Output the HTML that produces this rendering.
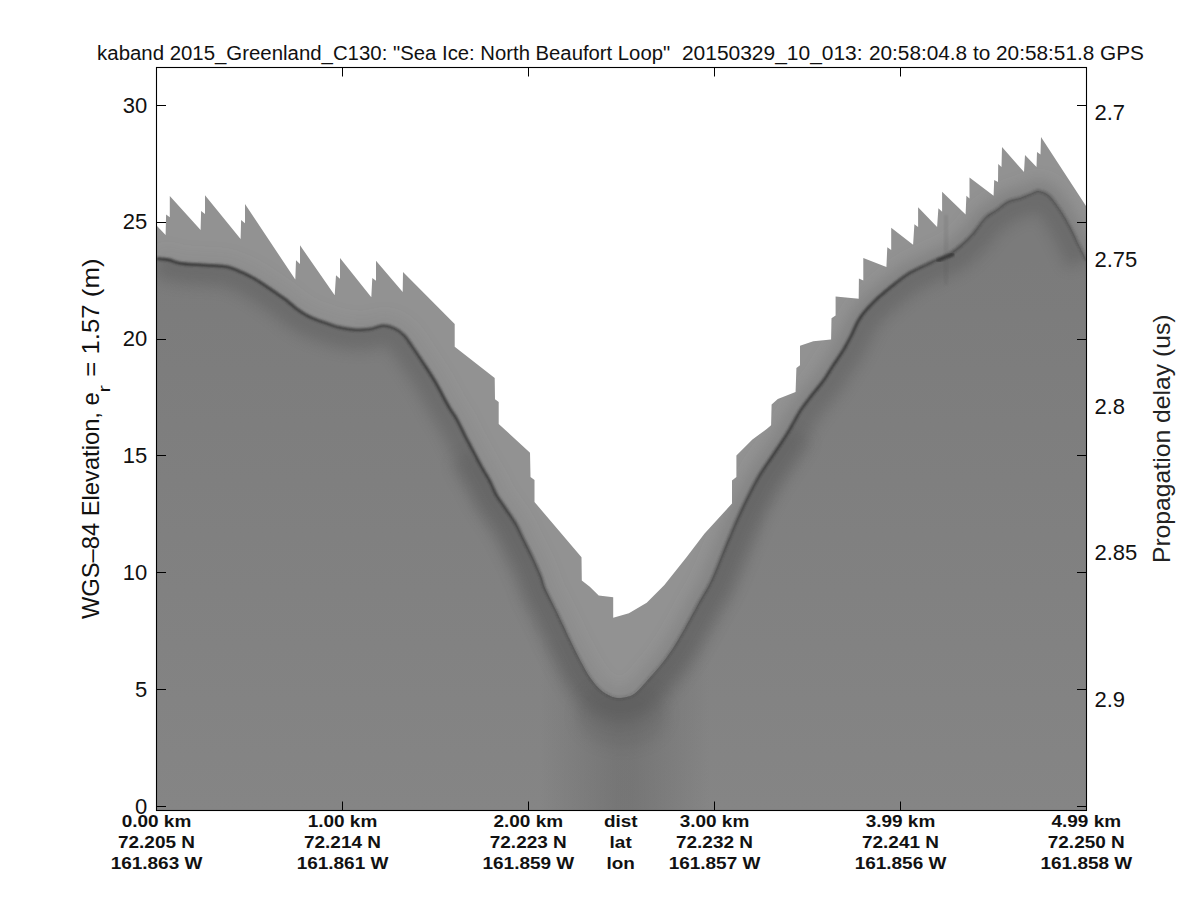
<!DOCTYPE html>
<html><head><meta charset="utf-8"><style>
html,body{margin:0;padding:0;background:#fff;}
svg{display:block;}
</style></head><body>
<svg width="1200" height="900" viewBox="0 0 1200 900">
<rect width="1200" height="900" fill="#fff"/>
<defs>
<filter id="b1" x="-0.05" y="-0.05" width="1.1" height="1.1"><feGaussianBlur stdDeviation="1"/></filter>
<filter id="b6" x="-0.2" y="-0.2" width="1.4" height="1.4"><feGaussianBlur stdDeviation="7"/></filter>
<filter id="b15" x="-0.5" y="-0.5" width="2" height="2"><feGaussianBlur stdDeviation="18"/></filter>
<clipPath id="plot"><rect x="157" y="68" width="929" height="742"/></clipPath>
<clipPath id="low"><path d="M157.0,258.5 C158.9,258.7 164.8,259.0 168.7,259.8 C172.6,260.6 174.5,262.4 180.3,263.3 C186.1,264.2 195.9,264.5 203.7,265.1 C211.5,265.7 221.2,265.8 227.0,266.8 C232.8,267.8 234.8,269.3 238.7,270.9 C242.6,272.5 246.4,274.1 250.3,276.2 C254.2,278.2 258.1,280.7 262.0,283.2 C265.9,285.7 269.9,288.7 273.7,291.3 C277.5,293.9 281.1,296.1 285.0,299.0 C288.9,301.9 293.1,306.1 297.0,309.0 C300.9,311.9 304.0,314.0 308.7,316.3 C313.4,318.6 319.9,320.9 325.0,322.7 C330.1,324.5 333.9,326.1 339.0,327.3 C344.1,328.5 350.2,329.4 355.3,329.7 C360.4,330.0 364.6,329.8 369.3,329.1 C374.0,328.4 379.0,325.6 383.3,325.5 C387.6,325.4 391.5,326.8 395.0,328.5 C398.5,330.2 401.6,332.6 404.4,335.5 C407.2,338.4 408.7,341.2 412.0,346.0 C415.3,350.8 420.0,357.8 424.0,364.0 C428.0,370.2 431.9,375.9 436.0,383.0 C440.1,390.1 445.4,400.7 448.9,406.7 C452.3,412.7 453.9,413.9 456.7,418.9 C459.5,423.9 462.8,431.3 465.6,436.7 C468.4,442.1 470.5,445.9 473.3,451.1 C476.1,456.3 479.4,462.8 482.2,467.8 C485.0,472.8 487.7,476.7 490.0,481.1 C492.3,485.6 493.8,490.2 496.2,494.5 C498.6,498.8 501.2,501.9 504.4,506.7 C507.6,511.5 512.5,517.9 515.6,523.3 C518.8,528.7 520.5,533.3 523.3,538.9 C526.1,544.5 529.2,550.4 532.2,556.7 C535.2,563.0 539.0,571.4 541.1,576.7 C543.2,582.0 542.3,582.5 545.0,588.6 C547.7,594.7 553.3,605.0 557.3,613.2 C561.3,621.4 565.0,629.8 568.9,637.8 C572.8,645.8 576.9,654.1 580.5,660.9 C584.1,667.6 587.0,673.2 590.6,678.3 C594.2,683.4 598.0,688.0 602.1,691.3 C606.2,694.5 611.0,696.8 615.1,697.8 C619.2,698.8 623.2,698.0 626.7,697.1 C630.2,696.2 631.8,696.1 636.0,692.5 C640.2,688.9 646.7,681.2 651.7,675.5 C656.7,669.8 661.8,664.0 666.1,658.2 C670.4,652.4 673.9,647.1 677.7,640.8 C681.6,634.5 685.6,627.1 689.2,620.6 C692.8,614.1 695.8,608.3 699.4,601.8 C703.0,595.3 706.9,589.9 710.9,581.6 C714.9,573.3 719.1,561.9 723.3,552.0 C727.4,542.1 731.9,531.2 735.8,522.4 C739.7,513.6 742.8,506.9 746.7,499.1 C750.6,491.3 755.0,482.8 759.1,475.8 C763.2,468.8 767.9,462.6 771.5,457.1 C775.1,451.7 777.8,447.8 780.9,443.1 C784.0,438.4 786.7,434.2 790.0,428.7 C793.3,423.2 796.9,415.8 800.7,410.0 C804.5,404.2 808.9,398.9 812.7,394.0 C816.5,389.1 820.0,385.4 823.3,380.7 C826.6,376.0 829.4,371.1 832.7,366.0 C836.0,360.9 840.2,355.1 843.3,350.0 C846.4,344.9 848.3,341.0 851.1,335.6 C853.9,330.2 856.3,323.4 860.0,317.8 C863.7,312.2 868.1,307.4 873.3,302.2 C878.5,297.0 885.2,291.5 891.1,286.7 C897.0,281.9 903.0,277.0 908.9,273.3 C914.8,269.6 922.2,266.6 926.7,264.4 C931.2,262.2 931.9,261.7 935.6,260.0 C939.3,258.3 944.5,256.9 948.9,254.4 C953.2,251.8 957.6,248.3 961.7,244.7 C965.8,241.1 969.4,237.5 973.3,233.0 C977.2,228.5 981.1,221.7 985.0,217.8 C988.9,213.9 992.8,212.4 996.7,209.7 C1000.6,206.9 1004.4,203.2 1008.3,201.3 C1012.2,199.4 1016.1,199.3 1020.0,198.0 C1023.9,196.7 1028.6,194.5 1031.7,193.3 C1034.8,192.1 1035.8,190.6 1038.7,191.0 C1041.6,191.4 1045.5,192.4 1049.2,195.7 C1052.9,199.0 1057.5,206.0 1060.8,210.8 C1064.1,215.7 1066.5,220.1 1069.0,224.8 C1071.5,229.5 1073.2,233.0 1076.0,238.8 C1078.8,244.6 1084.3,256.1 1086.0,259.5 L1086,810 L157,810 Z"/></clipPath>
<clipPath id="data"><polygon points="157.0,226.1 165.6,235.0 166.1,214.4 169.8,217.2 169.8,196.1 200.6,230.0 201.1,211.1 205.0,214.1 205.0,195.2 240.6,238.9 241.1,220.0 245.0,223.3 245.0,204.1 295.3,279.5 296.0,260.3 300.0,264.0 300.0,245.3 334.7,295.3 336.0,275.3 340.0,278.7 340.0,258.0 371.3,297.3 372.3,278.0 376.0,280.7 376.0,260.7 402.7,292.0 403.0,272.0 454.7,324.0 454.7,346.7 494.7,378.0 495.0,399.3 498.7,402.0 498.7,424.0 530.0,452.7 530.5,477.0 534.5,480.0 534.5,502.0 581.5,557.3 581.8,580.4 589.8,586.7 598.7,595.6 613.2,597.3 613.2,617.8 628.9,613.3 646.7,602.7 664.4,584.9 686.7,556.9 704.4,533.8 722.2,514.2 732.0,503.6 732.0,480.4 736.4,476.9 736.4,455.6 752.4,439.6 766.7,428.9 771.1,425.3 771.6,404.4 777.8,399.1 795.6,392.0 796.4,368.0 800.0,365.3 800.0,345.8 813.3,341.3 831.1,339.6 831.5,318.2 835.6,315.6 835.6,296.4 858.7,298.7 858.9,278.4 863.3,280.4 863.3,258.0 886.4,266.9 887.3,247.3 891.2,250.0 891.2,227.8 913.1,244.7 914.4,224.2 918.1,226.9 918.1,207.3 937.1,226.9 938.4,208.2 942.1,211.8 942.1,191.7 965.6,214.4 966.4,195.8 969.5,198.4 969.5,177.5 993.6,195.8 994.2,180.0 998.0,182.0 998.2,164.0 1001.5,167.0 1002.0,147.0 1024.0,172.0 1025.0,155.0 1036.5,167.0 1037.0,152.0 1040.5,154.5 1041.0,137.0 1086.0,206.0 1086.0,810.0 157.0,810.0"/></clipPath>
<clipPath id="high"><path d="M157.0,226.1 L165.6,235.0 L166.1,214.4 L169.8,217.2 L169.8,196.1 L200.6,230.0 L201.1,211.1 L205.0,214.1 L205.0,195.2 L240.6,238.9 L241.1,220.0 L245.0,223.3 L245.0,204.1 L295.3,279.5 L296.0,260.3 L300.0,264.0 L300.0,245.3 L334.7,295.3 L336.0,275.3 L340.0,278.7 L340.0,258.0 L371.3,297.3 L372.3,278.0 L376.0,280.7 L376.0,260.7 L402.7,292.0 L403.0,272.0 L454.7,324.0 L454.7,346.7 L494.7,378.0 L495.0,399.3 L498.7,402.0 L498.7,424.0 L530.0,452.7 L530.5,477.0 L534.5,480.0 L534.5,502.0 L581.5,557.3 L581.8,580.4 L589.8,586.7 L598.7,595.6 L613.2,597.3 L613.2,617.8 L628.9,613.3 L646.7,602.7 L664.4,584.9 L686.7,556.9 L704.4,533.8 L722.2,514.2 L732.0,503.6 L732.0,480.4 L736.4,476.9 L736.4,455.6 L752.4,439.6 L766.7,428.9 L771.1,425.3 L771.6,404.4 L777.8,399.1 L795.6,392.0 L796.4,368.0 L800.0,365.3 L800.0,345.8 L813.3,341.3 L831.1,339.6 L831.5,318.2 L835.6,315.6 L835.6,296.4 L858.7,298.7 L858.9,278.4 L863.3,280.4 L863.3,258.0 L886.4,266.9 L887.3,247.3 L891.2,250.0 L891.2,227.8 L913.1,244.7 L914.4,224.2 L918.1,226.9 L918.1,207.3 L937.1,226.9 L938.4,208.2 L942.1,211.8 L942.1,191.7 L965.6,214.4 L966.4,195.8 L969.5,198.4 L969.5,177.5 L993.6,195.8 L994.2,180.0 L998.0,182.0 L998.2,164.0 L1001.5,167.0 L1002.0,147.0 L1024.0,172.0 L1025.0,155.0 L1036.5,167.0 L1037.0,152.0 L1040.5,154.5 L1041.0,137.0 L1086.0,206.0 L1086.0,259.5 C1084.3,256.1 1078.8,244.6 1076.0,238.8 C1073.2,233.0 1071.5,229.5 1069.0,224.8 C1066.5,220.1 1064.1,215.7 1060.8,210.8 C1057.5,206.0 1052.9,199.0 1049.2,195.7 C1045.5,192.4 1041.6,191.4 1038.7,191.0 C1035.8,190.6 1034.8,192.1 1031.7,193.3 C1028.6,194.5 1023.9,196.7 1020.0,198.0 C1016.1,199.3 1012.2,199.4 1008.3,201.3 C1004.4,203.2 1000.6,206.9 996.7,209.7 C992.8,212.4 988.9,213.9 985.0,217.8 C981.1,221.7 977.2,228.5 973.3,233.0 C969.4,237.5 965.8,241.1 961.7,244.7 C957.6,248.3 953.2,251.8 948.9,254.4 C944.5,256.9 939.3,258.3 935.6,260.0 C931.9,261.7 931.2,262.2 926.7,264.4 C922.2,266.6 914.8,269.6 908.9,273.3 C903.0,277.0 897.0,281.9 891.1,286.7 C885.2,291.5 878.5,297.0 873.3,302.2 C868.1,307.4 863.7,312.2 860.0,317.8 C856.3,323.4 853.9,330.2 851.1,335.6 C848.3,341.0 846.4,344.9 843.3,350.0 C840.2,355.1 836.0,360.9 832.7,366.0 C829.4,371.1 826.6,376.0 823.3,380.7 C820.0,385.4 816.5,389.1 812.7,394.0 C808.9,398.9 804.5,404.2 800.7,410.0 C796.9,415.8 793.3,423.2 790.0,428.7 C786.7,434.2 784.0,438.4 780.9,443.1 C777.8,447.8 775.1,451.7 771.5,457.1 C767.9,462.6 763.2,468.8 759.1,475.8 C755.0,482.8 750.6,491.3 746.7,499.1 C742.8,506.9 739.7,513.6 735.8,522.4 C731.9,531.2 727.4,542.1 723.3,552.0 C719.1,561.9 714.9,573.3 710.9,581.6 C706.9,589.9 703.0,595.3 699.4,601.8 C695.8,608.3 692.8,614.1 689.2,620.6 C685.6,627.1 681.6,634.5 677.7,640.8 C673.9,647.1 670.4,652.4 666.1,658.2 C661.8,664.0 656.7,669.8 651.7,675.5 C646.7,681.2 640.2,688.9 636.0,692.5 C631.8,696.1 630.2,696.2 626.7,697.1 C623.2,698.0 619.2,698.8 615.1,697.8 C611.0,696.8 606.2,694.5 602.1,691.3 C598.0,688.0 594.2,683.4 590.6,678.3 C587.0,673.2 584.1,667.6 580.5,660.9 C576.9,654.1 572.8,645.8 568.9,637.8 C565.0,629.8 561.3,621.4 557.3,613.2 C553.3,605.0 547.7,594.7 545.0,588.6 C542.3,582.5 543.2,582.0 541.1,576.7 C539.0,571.4 535.2,563.0 532.2,556.7 C529.2,550.4 526.1,544.5 523.3,538.9 C520.5,533.3 518.8,528.7 515.6,523.3 C512.5,517.9 507.6,511.5 504.4,506.7 C501.2,501.9 498.6,498.8 496.2,494.5 C493.8,490.2 492.3,485.6 490.0,481.1 C487.7,476.7 485.0,472.8 482.2,467.8 C479.4,462.8 476.1,456.3 473.3,451.1 C470.5,445.9 468.4,442.1 465.6,436.7 C462.8,431.3 459.5,423.9 456.7,418.9 C453.9,413.9 452.3,412.7 448.9,406.7 C445.4,400.7 440.1,390.1 436.0,383.0 C431.9,375.9 428.0,370.2 424.0,364.0 C420.0,357.8 415.3,350.8 412.0,346.0 C408.7,341.2 407.2,338.4 404.4,335.5 C401.6,332.6 398.5,330.2 395.0,328.5 C391.5,326.8 387.6,325.4 383.3,325.5 C379.0,325.6 374.0,328.4 369.3,329.1 C364.6,329.8 360.4,330.0 355.3,329.7 C350.2,329.4 344.1,328.5 339.0,327.3 C333.9,326.1 330.1,324.5 325.0,322.7 C319.9,320.9 313.4,318.6 308.7,316.3 C304.0,314.0 300.9,311.9 297.0,309.0 C293.1,306.1 288.9,301.9 285.0,299.0 C281.1,296.1 277.5,293.9 273.7,291.3 C269.9,288.7 265.9,285.7 262.0,283.2 C258.1,280.7 254.2,278.2 250.3,276.2 C246.4,274.1 242.6,272.5 238.7,270.9 C234.8,269.3 232.8,267.8 227.0,266.8 C221.2,265.8 211.5,265.7 203.7,265.1 C195.9,264.5 186.1,264.2 180.3,263.3 C174.5,262.4 172.6,260.6 168.7,259.8 C164.8,259.0 158.9,258.7 157.0,258.5 Z"/></clipPath>
</defs>
<defs>
<linearGradient id="lowg" gradientUnits="userSpaceOnUse" x1="0" y1="260" x2="0" y2="810"><stop offset="0" stop-color="#7b7b7b"/><stop offset="1" stop-color="#858585"/></linearGradient>
<linearGradient id="vband" gradientUnits="userSpaceOnUse" x1="540" y1="0" x2="710" y2="0"><stop offset="0" stop-color="#5c5c5c" stop-opacity="0"/><stop offset="0.45" stop-color="#5c5c5c" stop-opacity="0.36"/><stop offset="0.55" stop-color="#5c5c5c" stop-opacity="0.36"/><stop offset="1" stop-color="#5c5c5c" stop-opacity="0"/></linearGradient>
<linearGradient id="lineg" gradientUnits="userSpaceOnUse" x1="157" y1="0" x2="1086" y2="0">
<stop offset="0" stop-color="#333" stop-opacity="0.9"/>
<stop offset="0.15" stop-color="#333" stop-opacity="0.85"/>
<stop offset="0.25" stop-color="#333" stop-opacity="0.7"/>
<stop offset="0.30" stop-color="#333" stop-opacity="0.9"/>
<stop offset="0.37" stop-color="#333" stop-opacity="0.8"/>
<stop offset="0.45" stop-color="#333" stop-opacity="0.3"/>
<stop offset="0.52" stop-color="#333" stop-opacity="0.15"/>
<stop offset="0.60" stop-color="#333" stop-opacity="0.45"/>
<stop offset="0.66" stop-color="#333" stop-opacity="0.8"/>
<stop offset="0.78" stop-color="#333" stop-opacity="0.9"/>
<stop offset="0.84" stop-color="#333" stop-opacity="0.6"/>
<stop offset="0.90" stop-color="#333" stop-opacity="0.4"/>
<stop offset="1" stop-color="#333" stop-opacity="0.35"/>
</linearGradient>
<linearGradient id="hg" gradientUnits="userSpaceOnUse" x1="157" y1="0" x2="1086" y2="0">
<stop offset="0" stop-color="#6a6a6a" stop-opacity="0.1"/>
<stop offset="0.45" stop-color="#6a6a6a" stop-opacity="0.15"/>
<stop offset="0.6" stop-color="#6a6a6a" stop-opacity="0.35"/>
<stop offset="1" stop-color="#6a6a6a" stop-opacity="0.4"/>
</linearGradient>
</defs>
<g clip-path="url(#plot)">
<polygon points="157.0,226.1 165.6,235.0 166.1,214.4 169.8,217.2 169.8,196.1 200.6,230.0 201.1,211.1 205.0,214.1 205.0,195.2 240.6,238.9 241.1,220.0 245.0,223.3 245.0,204.1 295.3,279.5 296.0,260.3 300.0,264.0 300.0,245.3 334.7,295.3 336.0,275.3 340.0,278.7 340.0,258.0 371.3,297.3 372.3,278.0 376.0,280.7 376.0,260.7 402.7,292.0 403.0,272.0 454.7,324.0 454.7,346.7 494.7,378.0 495.0,399.3 498.7,402.0 498.7,424.0 530.0,452.7 530.5,477.0 534.5,480.0 534.5,502.0 581.5,557.3 581.8,580.4 589.8,586.7 598.7,595.6 613.2,597.3 613.2,617.8 628.9,613.3 646.7,602.7 664.4,584.9 686.7,556.9 704.4,533.8 722.2,514.2 732.0,503.6 732.0,480.4 736.4,476.9 736.4,455.6 752.4,439.6 766.7,428.9 771.1,425.3 771.6,404.4 777.8,399.1 795.6,392.0 796.4,368.0 800.0,365.3 800.0,345.8 813.3,341.3 831.1,339.6 831.5,318.2 835.6,315.6 835.6,296.4 858.7,298.7 858.9,278.4 863.3,280.4 863.3,258.0 886.4,266.9 887.3,247.3 891.2,250.0 891.2,227.8 913.1,244.7 914.4,224.2 918.1,226.9 918.1,207.3 937.1,226.9 938.4,208.2 942.1,211.8 942.1,191.7 965.6,214.4 966.4,195.8 969.5,198.4 969.5,177.5 993.6,195.8 994.2,180.0 998.0,182.0 998.2,164.0 1001.5,167.0 1002.0,147.0 1024.0,172.0 1025.0,155.0 1036.5,167.0 1037.0,152.0 1040.5,154.5 1041.0,137.0 1086.0,206.0 1086.0,810.0 157.0,810.0" fill="#929292"/>
<path d="M157.0,258.5 C158.9,258.7 164.8,259.0 168.7,259.8 C172.6,260.6 174.5,262.4 180.3,263.3 C186.1,264.2 195.9,264.5 203.7,265.1 C211.5,265.7 221.2,265.8 227.0,266.8 C232.8,267.8 234.8,269.3 238.7,270.9 C242.6,272.5 246.4,274.1 250.3,276.2 C254.2,278.2 258.1,280.7 262.0,283.2 C265.9,285.7 269.9,288.7 273.7,291.3 C277.5,293.9 281.1,296.1 285.0,299.0 C288.9,301.9 293.1,306.1 297.0,309.0 C300.9,311.9 304.0,314.0 308.7,316.3 C313.4,318.6 319.9,320.9 325.0,322.7 C330.1,324.5 333.9,326.1 339.0,327.3 C344.1,328.5 350.2,329.4 355.3,329.7 C360.4,330.0 364.6,329.8 369.3,329.1 C374.0,328.4 379.0,325.6 383.3,325.5 C387.6,325.4 391.5,326.8 395.0,328.5 C398.5,330.2 401.6,332.6 404.4,335.5 C407.2,338.4 408.7,341.2 412.0,346.0 C415.3,350.8 420.0,357.8 424.0,364.0 C428.0,370.2 431.9,375.9 436.0,383.0 C440.1,390.1 445.4,400.7 448.9,406.7 C452.3,412.7 453.9,413.9 456.7,418.9 C459.5,423.9 462.8,431.3 465.6,436.7 C468.4,442.1 470.5,445.9 473.3,451.1 C476.1,456.3 479.4,462.8 482.2,467.8 C485.0,472.8 487.7,476.7 490.0,481.1 C492.3,485.6 493.8,490.2 496.2,494.5 C498.6,498.8 501.2,501.9 504.4,506.7 C507.6,511.5 512.5,517.9 515.6,523.3 C518.8,528.7 520.5,533.3 523.3,538.9 C526.1,544.5 529.2,550.4 532.2,556.7 C535.2,563.0 539.0,571.4 541.1,576.7 C543.2,582.0 542.3,582.5 545.0,588.6 C547.7,594.7 553.3,605.0 557.3,613.2 C561.3,621.4 565.0,629.8 568.9,637.8 C572.8,645.8 576.9,654.1 580.5,660.9 C584.1,667.6 587.0,673.2 590.6,678.3 C594.2,683.4 598.0,688.0 602.1,691.3 C606.2,694.5 611.0,696.8 615.1,697.8 C619.2,698.8 623.2,698.0 626.7,697.1 C630.2,696.2 631.8,696.1 636.0,692.5 C640.2,688.9 646.7,681.2 651.7,675.5 C656.7,669.8 661.8,664.0 666.1,658.2 C670.4,652.4 673.9,647.1 677.7,640.8 C681.6,634.5 685.6,627.1 689.2,620.6 C692.8,614.1 695.8,608.3 699.4,601.8 C703.0,595.3 706.9,589.9 710.9,581.6 C714.9,573.3 719.1,561.9 723.3,552.0 C727.4,542.1 731.9,531.2 735.8,522.4 C739.7,513.6 742.8,506.9 746.7,499.1 C750.6,491.3 755.0,482.8 759.1,475.8 C763.2,468.8 767.9,462.6 771.5,457.1 C775.1,451.7 777.8,447.8 780.9,443.1 C784.0,438.4 786.7,434.2 790.0,428.7 C793.3,423.2 796.9,415.8 800.7,410.0 C804.5,404.2 808.9,398.9 812.7,394.0 C816.5,389.1 820.0,385.4 823.3,380.7 C826.6,376.0 829.4,371.1 832.7,366.0 C836.0,360.9 840.2,355.1 843.3,350.0 C846.4,344.9 848.3,341.0 851.1,335.6 C853.9,330.2 856.3,323.4 860.0,317.8 C863.7,312.2 868.1,307.4 873.3,302.2 C878.5,297.0 885.2,291.5 891.1,286.7 C897.0,281.9 903.0,277.0 908.9,273.3 C914.8,269.6 922.2,266.6 926.7,264.4 C931.2,262.2 931.9,261.7 935.6,260.0 C939.3,258.3 944.5,256.9 948.9,254.4 C953.2,251.8 957.6,248.3 961.7,244.7 C965.8,241.1 969.4,237.5 973.3,233.0 C977.2,228.5 981.1,221.7 985.0,217.8 C988.9,213.9 992.8,212.4 996.7,209.7 C1000.6,206.9 1004.4,203.2 1008.3,201.3 C1012.2,199.4 1016.1,199.3 1020.0,198.0 C1023.9,196.7 1028.6,194.5 1031.7,193.3 C1034.8,192.1 1035.8,190.6 1038.7,191.0 C1041.6,191.4 1045.5,192.4 1049.2,195.7 C1052.9,199.0 1057.5,206.0 1060.8,210.8 C1064.1,215.7 1066.5,220.1 1069.0,224.8 C1071.5,229.5 1073.2,233.0 1076.0,238.8 C1078.8,244.6 1084.3,256.1 1086.0,259.5 L1086,810 L157,810 Z" fill="url(#lowg)"/>
<g clip-path="url(#low)"><path d="M157.0,258.5 C158.9,258.7 164.8,259.0 168.7,259.8 C172.6,260.6 174.5,262.4 180.3,263.3 C186.1,264.2 195.9,264.5 203.7,265.1 C211.5,265.7 221.2,265.8 227.0,266.8 C232.8,267.8 234.8,269.3 238.7,270.9 C242.6,272.5 246.4,274.1 250.3,276.2 C254.2,278.2 258.1,280.7 262.0,283.2 C265.9,285.7 269.9,288.7 273.7,291.3 C277.5,293.9 281.1,296.1 285.0,299.0 C288.9,301.9 293.1,306.1 297.0,309.0 C300.9,311.9 304.0,314.0 308.7,316.3 C313.4,318.6 319.9,320.9 325.0,322.7 C330.1,324.5 333.9,326.1 339.0,327.3 C344.1,328.5 350.2,329.4 355.3,329.7 C360.4,330.0 364.6,329.8 369.3,329.1 C374.0,328.4 379.0,325.6 383.3,325.5 C387.6,325.4 391.5,326.8 395.0,328.5 C398.5,330.2 401.6,332.6 404.4,335.5 C407.2,338.4 408.7,341.2 412.0,346.0 C415.3,350.8 420.0,357.8 424.0,364.0 C428.0,370.2 431.9,375.9 436.0,383.0 C440.1,390.1 445.4,400.7 448.9,406.7 C452.3,412.7 453.9,413.9 456.7,418.9 C459.5,423.9 462.8,431.3 465.6,436.7 C468.4,442.1 470.5,445.9 473.3,451.1 C476.1,456.3 479.4,462.8 482.2,467.8 C485.0,472.8 487.7,476.7 490.0,481.1 C492.3,485.6 493.8,490.2 496.2,494.5 C498.6,498.8 501.2,501.9 504.4,506.7 C507.6,511.5 512.5,517.9 515.6,523.3 C518.8,528.7 520.5,533.3 523.3,538.9 C526.1,544.5 529.2,550.4 532.2,556.7 C535.2,563.0 539.0,571.4 541.1,576.7 C543.2,582.0 542.3,582.5 545.0,588.6 C547.7,594.7 553.3,605.0 557.3,613.2 C561.3,621.4 565.0,629.8 568.9,637.8 C572.8,645.8 576.9,654.1 580.5,660.9 C584.1,667.6 587.0,673.2 590.6,678.3 C594.2,683.4 598.0,688.0 602.1,691.3 C606.2,694.5 611.0,696.8 615.1,697.8 C619.2,698.8 623.2,698.0 626.7,697.1 C630.2,696.2 631.8,696.1 636.0,692.5 C640.2,688.9 646.7,681.2 651.7,675.5 C656.7,669.8 661.8,664.0 666.1,658.2 C670.4,652.4 673.9,647.1 677.7,640.8 C681.6,634.5 685.6,627.1 689.2,620.6 C692.8,614.1 695.8,608.3 699.4,601.8 C703.0,595.3 706.9,589.9 710.9,581.6 C714.9,573.3 719.1,561.9 723.3,552.0 C727.4,542.1 731.9,531.2 735.8,522.4 C739.7,513.6 742.8,506.9 746.7,499.1 C750.6,491.3 755.0,482.8 759.1,475.8 C763.2,468.8 767.9,462.6 771.5,457.1 C775.1,451.7 777.8,447.8 780.9,443.1 C784.0,438.4 786.7,434.2 790.0,428.7 C793.3,423.2 796.9,415.8 800.7,410.0 C804.5,404.2 808.9,398.9 812.7,394.0 C816.5,389.1 820.0,385.4 823.3,380.7 C826.6,376.0 829.4,371.1 832.7,366.0 C836.0,360.9 840.2,355.1 843.3,350.0 C846.4,344.9 848.3,341.0 851.1,335.6 C853.9,330.2 856.3,323.4 860.0,317.8 C863.7,312.2 868.1,307.4 873.3,302.2 C878.5,297.0 885.2,291.5 891.1,286.7 C897.0,281.9 903.0,277.0 908.9,273.3 C914.8,269.6 922.2,266.6 926.7,264.4 C931.2,262.2 931.9,261.7 935.6,260.0 C939.3,258.3 944.5,256.9 948.9,254.4 C953.2,251.8 957.6,248.3 961.7,244.7 C965.8,241.1 969.4,237.5 973.3,233.0 C977.2,228.5 981.1,221.7 985.0,217.8 C988.9,213.9 992.8,212.4 996.7,209.7 C1000.6,206.9 1004.4,203.2 1008.3,201.3 C1012.2,199.4 1016.1,199.3 1020.0,198.0 C1023.9,196.7 1028.6,194.5 1031.7,193.3 C1034.8,192.1 1035.8,190.6 1038.7,191.0 C1041.6,191.4 1045.5,192.4 1049.2,195.7 C1052.9,199.0 1057.5,206.0 1060.8,210.8 C1064.1,215.7 1066.5,220.1 1069.0,224.8 C1071.5,229.5 1073.2,233.0 1076.0,238.8 C1078.8,244.6 1084.3,256.1 1086.0,259.5" fill="none" stroke="#5a5a5a" stroke-width="40" filter="url(#b6)" opacity="0.45"/>
<rect x="540" y="640" width="170" height="175" fill="url(#vband)"/>
<path d="M473.3,451.1 C474.8,453.9 479.4,462.8 482.2,467.8 C485.0,472.8 487.7,476.7 490.0,481.1 C492.3,485.6 493.8,490.2 496.2,494.5 C498.6,498.8 501.2,501.9 504.4,506.7 C507.6,511.5 512.5,517.9 515.6,523.3 C518.8,528.7 520.5,533.3 523.3,538.9 C526.1,544.5 529.2,550.4 532.2,556.7 C535.2,563.0 539.0,571.4 541.1,576.7 C543.2,582.0 542.3,582.5 545.0,588.6 C547.7,594.7 553.3,605.0 557.3,613.2 C561.3,621.4 565.0,629.8 568.9,637.8 C572.8,645.8 576.9,654.1 580.5,660.9 C584.1,667.6 587.0,673.2 590.6,678.3 C594.2,683.4 598.0,688.0 602.1,691.3 C606.2,694.5 611.0,696.8 615.1,697.8 C619.2,698.8 623.2,698.0 626.7,697.1 C630.2,696.2 631.8,696.1 636.0,692.5 C640.2,688.9 646.7,681.2 651.7,675.5 C656.7,669.8 661.8,664.0 666.1,658.2 C670.4,652.4 673.9,647.1 677.7,640.8 C681.6,634.5 685.6,627.1 689.2,620.6 C692.8,614.1 695.8,608.3 699.4,601.8 C703.0,595.3 706.9,589.9 710.9,581.6 C714.9,573.3 719.1,561.9 723.3,552.0 C727.4,542.1 731.9,531.2 735.8,522.4 C739.7,513.6 742.8,506.9 746.7,499.1 C750.6,491.3 755.0,482.8 759.1,475.8 C763.2,468.8 767.9,462.6 771.5,457.1 C775.1,451.7 777.8,447.8 780.9,443.1 C784.0,438.4 788.5,431.1 790.0,428.7" fill="none" stroke="#5a5a5a" stroke-width="50" filter="url(#b6)" opacity="0.3"/>
<ellipse cx="622" cy="715" rx="45" ry="32" fill="#5a5a5a" opacity="0.25" filter="url(#b6)"/>
</g>
<g clip-path="url(#high)"><path d="M157.0,258.5 C158.9,258.7 164.8,259.0 168.7,259.8 C172.6,260.6 174.5,262.4 180.3,263.3 C186.1,264.2 195.9,264.5 203.7,265.1 C211.5,265.7 221.2,265.8 227.0,266.8 C232.8,267.8 234.8,269.3 238.7,270.9 C242.6,272.5 246.4,274.1 250.3,276.2 C254.2,278.2 258.1,280.7 262.0,283.2 C265.9,285.7 269.9,288.7 273.7,291.3 C277.5,293.9 281.1,296.1 285.0,299.0 C288.9,301.9 293.1,306.1 297.0,309.0 C300.9,311.9 304.0,314.0 308.7,316.3 C313.4,318.6 319.9,320.9 325.0,322.7 C330.1,324.5 333.9,326.1 339.0,327.3 C344.1,328.5 350.2,329.4 355.3,329.7 C360.4,330.0 364.6,329.8 369.3,329.1 C374.0,328.4 379.0,325.6 383.3,325.5 C387.6,325.4 391.5,326.8 395.0,328.5 C398.5,330.2 401.6,332.6 404.4,335.5 C407.2,338.4 408.7,341.2 412.0,346.0 C415.3,350.8 420.0,357.8 424.0,364.0 C428.0,370.2 431.9,375.9 436.0,383.0 C440.1,390.1 445.4,400.7 448.9,406.7 C452.3,412.7 453.9,413.9 456.7,418.9 C459.5,423.9 462.8,431.3 465.6,436.7 C468.4,442.1 470.5,445.9 473.3,451.1 C476.1,456.3 479.4,462.8 482.2,467.8 C485.0,472.8 487.7,476.7 490.0,481.1 C492.3,485.6 493.8,490.2 496.2,494.5 C498.6,498.8 501.2,501.9 504.4,506.7 C507.6,511.5 512.5,517.9 515.6,523.3 C518.8,528.7 520.5,533.3 523.3,538.9 C526.1,544.5 529.2,550.4 532.2,556.7 C535.2,563.0 539.0,571.4 541.1,576.7 C543.2,582.0 542.3,582.5 545.0,588.6 C547.7,594.7 553.3,605.0 557.3,613.2 C561.3,621.4 565.0,629.8 568.9,637.8 C572.8,645.8 576.9,654.1 580.5,660.9 C584.1,667.6 587.0,673.2 590.6,678.3 C594.2,683.4 598.0,688.0 602.1,691.3 C606.2,694.5 611.0,696.8 615.1,697.8 C619.2,698.8 623.2,698.0 626.7,697.1 C630.2,696.2 631.8,696.1 636.0,692.5 C640.2,688.9 646.7,681.2 651.7,675.5 C656.7,669.8 661.8,664.0 666.1,658.2 C670.4,652.4 673.9,647.1 677.7,640.8 C681.6,634.5 685.6,627.1 689.2,620.6 C692.8,614.1 695.8,608.3 699.4,601.8 C703.0,595.3 706.9,589.9 710.9,581.6 C714.9,573.3 719.1,561.9 723.3,552.0 C727.4,542.1 731.9,531.2 735.8,522.4 C739.7,513.6 742.8,506.9 746.7,499.1 C750.6,491.3 755.0,482.8 759.1,475.8 C763.2,468.8 767.9,462.6 771.5,457.1 C775.1,451.7 777.8,447.8 780.9,443.1 C784.0,438.4 786.7,434.2 790.0,428.7 C793.3,423.2 796.9,415.8 800.7,410.0 C804.5,404.2 808.9,398.9 812.7,394.0 C816.5,389.1 820.0,385.4 823.3,380.7 C826.6,376.0 829.4,371.1 832.7,366.0 C836.0,360.9 840.2,355.1 843.3,350.0 C846.4,344.9 848.3,341.0 851.1,335.6 C853.9,330.2 856.3,323.4 860.0,317.8 C863.7,312.2 868.1,307.4 873.3,302.2 C878.5,297.0 885.2,291.5 891.1,286.7 C897.0,281.9 903.0,277.0 908.9,273.3 C914.8,269.6 922.2,266.6 926.7,264.4 C931.2,262.2 931.9,261.7 935.6,260.0 C939.3,258.3 944.5,256.9 948.9,254.4 C953.2,251.8 957.6,248.3 961.7,244.7 C965.8,241.1 969.4,237.5 973.3,233.0 C977.2,228.5 981.1,221.7 985.0,217.8 C988.9,213.9 992.8,212.4 996.7,209.7 C1000.6,206.9 1004.4,203.2 1008.3,201.3 C1012.2,199.4 1016.1,199.3 1020.0,198.0 C1023.9,196.7 1028.6,194.5 1031.7,193.3 C1034.8,192.1 1035.8,190.6 1038.7,191.0 C1041.6,191.4 1045.5,192.4 1049.2,195.7 C1052.9,199.0 1057.5,206.0 1060.8,210.8 C1064.1,215.7 1066.5,220.1 1069.0,224.8 C1071.5,229.5 1073.2,233.0 1076.0,238.8 C1078.8,244.6 1084.3,256.1 1086.0,259.5" fill="none" stroke="url(#hg)" stroke-width="22" filter="url(#b6)"/></g>
<path d="M937,261 Q946,257 954,254" fill="none" stroke="#2a2a2a" stroke-width="3.5" opacity="0.7" filter="url(#b1)"/><rect x="944" y="215" width="4" height="70" fill="#555" opacity="0.15" filter="url(#b1)"/>
<path d="M157.0,258.5 C158.9,258.7 164.8,259.0 168.7,259.8 C172.6,260.6 174.5,262.4 180.3,263.3 C186.1,264.2 195.9,264.5 203.7,265.1 C211.5,265.7 221.2,265.8 227.0,266.8 C232.8,267.8 234.8,269.3 238.7,270.9 C242.6,272.5 246.4,274.1 250.3,276.2 C254.2,278.2 258.1,280.7 262.0,283.2 C265.9,285.7 269.9,288.7 273.7,291.3 C277.5,293.9 281.1,296.1 285.0,299.0 C288.9,301.9 293.1,306.1 297.0,309.0 C300.9,311.9 304.0,314.0 308.7,316.3 C313.4,318.6 319.9,320.9 325.0,322.7 C330.1,324.5 333.9,326.1 339.0,327.3 C344.1,328.5 350.2,329.4 355.3,329.7 C360.4,330.0 364.6,329.8 369.3,329.1 C374.0,328.4 379.0,325.6 383.3,325.5 C387.6,325.4 391.5,326.8 395.0,328.5 C398.5,330.2 401.6,332.6 404.4,335.5 C407.2,338.4 408.7,341.2 412.0,346.0 C415.3,350.8 420.0,357.8 424.0,364.0 C428.0,370.2 431.9,375.9 436.0,383.0 C440.1,390.1 445.4,400.7 448.9,406.7 C452.3,412.7 453.9,413.9 456.7,418.9 C459.5,423.9 462.8,431.3 465.6,436.7 C468.4,442.1 470.5,445.9 473.3,451.1 C476.1,456.3 479.4,462.8 482.2,467.8 C485.0,472.8 487.7,476.7 490.0,481.1 C492.3,485.6 493.8,490.2 496.2,494.5 C498.6,498.8 501.2,501.9 504.4,506.7 C507.6,511.5 512.5,517.9 515.6,523.3 C518.8,528.7 520.5,533.3 523.3,538.9 C526.1,544.5 529.2,550.4 532.2,556.7 C535.2,563.0 539.0,571.4 541.1,576.7 C543.2,582.0 542.3,582.5 545.0,588.6 C547.7,594.7 553.3,605.0 557.3,613.2 C561.3,621.4 565.0,629.8 568.9,637.8 C572.8,645.8 576.9,654.1 580.5,660.9 C584.1,667.6 587.0,673.2 590.6,678.3 C594.2,683.4 598.0,688.0 602.1,691.3 C606.2,694.5 611.0,696.8 615.1,697.8 C619.2,698.8 623.2,698.0 626.7,697.1 C630.2,696.2 631.8,696.1 636.0,692.5 C640.2,688.9 646.7,681.2 651.7,675.5 C656.7,669.8 661.8,664.0 666.1,658.2 C670.4,652.4 673.9,647.1 677.7,640.8 C681.6,634.5 685.6,627.1 689.2,620.6 C692.8,614.1 695.8,608.3 699.4,601.8 C703.0,595.3 706.9,589.9 710.9,581.6 C714.9,573.3 719.1,561.9 723.3,552.0 C727.4,542.1 731.9,531.2 735.8,522.4 C739.7,513.6 742.8,506.9 746.7,499.1 C750.6,491.3 755.0,482.8 759.1,475.8 C763.2,468.8 767.9,462.6 771.5,457.1 C775.1,451.7 777.8,447.8 780.9,443.1 C784.0,438.4 786.7,434.2 790.0,428.7 C793.3,423.2 796.9,415.8 800.7,410.0 C804.5,404.2 808.9,398.9 812.7,394.0 C816.5,389.1 820.0,385.4 823.3,380.7 C826.6,376.0 829.4,371.1 832.7,366.0 C836.0,360.9 840.2,355.1 843.3,350.0 C846.4,344.9 848.3,341.0 851.1,335.6 C853.9,330.2 856.3,323.4 860.0,317.8 C863.7,312.2 868.1,307.4 873.3,302.2 C878.5,297.0 885.2,291.5 891.1,286.7 C897.0,281.9 903.0,277.0 908.9,273.3 C914.8,269.6 922.2,266.6 926.7,264.4 C931.2,262.2 931.9,261.7 935.6,260.0 C939.3,258.3 944.5,256.9 948.9,254.4 C953.2,251.8 957.6,248.3 961.7,244.7 C965.8,241.1 969.4,237.5 973.3,233.0 C977.2,228.5 981.1,221.7 985.0,217.8 C988.9,213.9 992.8,212.4 996.7,209.7 C1000.6,206.9 1004.4,203.2 1008.3,201.3 C1012.2,199.4 1016.1,199.3 1020.0,198.0 C1023.9,196.7 1028.6,194.5 1031.7,193.3 C1034.8,192.1 1035.8,190.6 1038.7,191.0 C1041.6,191.4 1045.5,192.4 1049.2,195.7 C1052.9,199.0 1057.5,206.0 1060.8,210.8 C1064.1,215.7 1066.5,220.1 1069.0,224.8 C1071.5,229.5 1073.2,233.0 1076.0,238.8 C1078.8,244.6 1084.3,256.1 1086.0,259.5" fill="none" stroke="url(#lineg)" stroke-width="3" filter="url(#b1)"/>
</g>
<rect x="156.5" y="67.5" width="930.0" height="743.0" fill="none" stroke="#000" stroke-width="1.1"/>
<line x1="156.5" y1="806.5" x2="166.0" y2="806.5" stroke="#000" stroke-width="1"/>
<line x1="1077.0" y1="806.5" x2="1086.5" y2="806.5" stroke="#000" stroke-width="1"/>
<line x1="156.5" y1="689.5" x2="166.0" y2="689.5" stroke="#000" stroke-width="1"/>
<line x1="1077.0" y1="689.5" x2="1086.5" y2="689.5" stroke="#000" stroke-width="1"/>
<line x1="156.5" y1="572.5" x2="166.0" y2="572.5" stroke="#000" stroke-width="1"/>
<line x1="1077.0" y1="572.5" x2="1086.5" y2="572.5" stroke="#000" stroke-width="1"/>
<line x1="156.5" y1="455.5" x2="166.0" y2="455.5" stroke="#000" stroke-width="1"/>
<line x1="1077.0" y1="455.5" x2="1086.5" y2="455.5" stroke="#000" stroke-width="1"/>
<line x1="156.5" y1="339.5" x2="166.0" y2="339.5" stroke="#000" stroke-width="1"/>
<line x1="1077.0" y1="339.5" x2="1086.5" y2="339.5" stroke="#000" stroke-width="1"/>
<line x1="156.5" y1="222.5" x2="166.0" y2="222.5" stroke="#000" stroke-width="1"/>
<line x1="1077.0" y1="222.5" x2="1086.5" y2="222.5" stroke="#000" stroke-width="1"/>
<line x1="156.5" y1="105.5" x2="166.0" y2="105.5" stroke="#000" stroke-width="1"/>
<line x1="1077.0" y1="105.5" x2="1086.5" y2="105.5" stroke="#000" stroke-width="1"/>
<line x1="342.5" y1="810.5" x2="342.5" y2="801.5" stroke="#000" stroke-width="1"/>
<line x1="342.5" y1="67.5" x2="342.5" y2="76.5" stroke="#000" stroke-width="1"/>
<line x1="528.5" y1="810.5" x2="528.5" y2="801.5" stroke="#000" stroke-width="1"/>
<line x1="528.5" y1="67.5" x2="528.5" y2="76.5" stroke="#000" stroke-width="1"/>
<line x1="714.5" y1="810.5" x2="714.5" y2="801.5" stroke="#000" stroke-width="1"/>
<line x1="714.5" y1="67.5" x2="714.5" y2="76.5" stroke="#000" stroke-width="1"/>
<line x1="900.5" y1="810.5" x2="900.5" y2="801.5" stroke="#000" stroke-width="1"/>
<line x1="900.5" y1="67.5" x2="900.5" y2="76.5" stroke="#000" stroke-width="1"/>
<text x="97.12" y="60" font-family="Liberation Sans, sans-serif" font-size="20"  textLength="290.20" lengthAdjust="spacingAndGlyphs" fill="#111">kaband 2015_Greenland_C130:</text>
<text x="393.14" y="60" font-family="Liberation Sans, sans-serif" font-size="20"  textLength="277.04" lengthAdjust="spacingAndGlyphs" fill="#111">&quot;Sea Ice: North Beaufort Loop&quot;</text>
<text x="681.95" y="60" font-family="Liberation Sans, sans-serif" font-size="20"  textLength="180.64" lengthAdjust="spacingAndGlyphs" fill="#111">20150329_10_013:</text>
<text x="868.96" y="60" font-family="Liberation Sans, sans-serif" font-size="20"  textLength="274.98" lengthAdjust="spacingAndGlyphs" fill="#111">20:58:04.8 to 20:58:51.8 GPS</text>
<text x="147.3" y="813.9" font-family="Liberation Sans, sans-serif" font-size="22" text-anchor="end" fill="#111">0</text>
<text x="147.3" y="697.0" font-family="Liberation Sans, sans-serif" font-size="22" text-anchor="end" fill="#111">5</text>
<text x="147.3" y="580.1" font-family="Liberation Sans, sans-serif" font-size="22" text-anchor="end" fill="#111">10</text>
<text x="147.3" y="463.2" font-family="Liberation Sans, sans-serif" font-size="22" text-anchor="end" fill="#111">15</text>
<text x="147.3" y="346.3" font-family="Liberation Sans, sans-serif" font-size="22" text-anchor="end" fill="#111">20</text>
<text x="147.3" y="229.4" font-family="Liberation Sans, sans-serif" font-size="22" text-anchor="end" fill="#111">25</text>
<text x="147.3" y="112.5" font-family="Liberation Sans, sans-serif" font-size="22" text-anchor="end" fill="#111">30</text>
<text x="1094.5" y="119.9" font-family="Liberation Sans, sans-serif" font-size="22" fill="#111">2.7</text>
<text x="1094.5" y="266.7" font-family="Liberation Sans, sans-serif" font-size="22" fill="#111">2.75</text>
<text x="1094.5" y="413.6" font-family="Liberation Sans, sans-serif" font-size="22" fill="#111">2.8</text>
<text x="1094.5" y="560.4" font-family="Liberation Sans, sans-serif" font-size="22" fill="#111">2.85</text>
<text x="1094.5" y="706.7" font-family="Liberation Sans, sans-serif" font-size="22" fill="#111">2.9</text>
<g transform="translate(99,619) rotate(-90)"><text x="-0.10" y="0" font-family="Liberation Sans, sans-serif" font-size="24"  textLength="226.84" lengthAdjust="spacingAndGlyphs" fill="#111">WGS–84 Elevation, e</text><text x="226.46" y="11" font-family="Liberation Sans, sans-serif" font-size="16"  textLength="7.33" lengthAdjust="spacingAndGlyphs" fill="#111">r</text><text x="242.16" y="0" font-family="Liberation Sans, sans-serif" font-size="24"  textLength="118.44" lengthAdjust="spacingAndGlyphs" fill="#111">= 1.57 (m)</text></g>
<g transform="translate(1169.5,563.1) rotate(-90) scale(1.03,1)"><text x="0" y="0" font-family="Liberation Sans, sans-serif" font-size="24" fill="#222">Propagation delay (us)</text></g>
<text x="121.7" y="826.9" font-family="Liberation Sans, sans-serif" font-size="17" font-weight="bold" textLength="69.6" lengthAdjust="spacingAndGlyphs" fill="#111">0.00 km</text>
<text x="307.7" y="826.9" font-family="Liberation Sans, sans-serif" font-size="17" font-weight="bold" textLength="69.6" lengthAdjust="spacingAndGlyphs" fill="#111">1.00 km</text>
<text x="493.5" y="826.9" font-family="Liberation Sans, sans-serif" font-size="17" font-weight="bold" textLength="69.6" lengthAdjust="spacingAndGlyphs" fill="#111">2.00 km</text>
<text x="603.9" y="826.9" font-family="Liberation Sans, sans-serif" font-size="17" font-weight="bold" textLength="33.7" lengthAdjust="spacingAndGlyphs" fill="#111">dist</text>
<text x="679.7" y="826.9" font-family="Liberation Sans, sans-serif" font-size="17" font-weight="bold" textLength="69.6" lengthAdjust="spacingAndGlyphs" fill="#111">3.00 km</text>
<text x="865.7" y="826.9" font-family="Liberation Sans, sans-serif" font-size="17" font-weight="bold" textLength="69.6" lengthAdjust="spacingAndGlyphs" fill="#111">3.99 km</text>
<text x="1051.5" y="826.9" font-family="Liberation Sans, sans-serif" font-size="17" font-weight="bold" textLength="69.6" lengthAdjust="spacingAndGlyphs" fill="#111">4.99 km</text>
<text x="118.0" y="847.9" font-family="Liberation Sans, sans-serif" font-size="17" font-weight="bold" textLength="76.9" lengthAdjust="spacingAndGlyphs" fill="#111">72.205 N</text>
<text x="304.0" y="847.9" font-family="Liberation Sans, sans-serif" font-size="17" font-weight="bold" textLength="76.9" lengthAdjust="spacingAndGlyphs" fill="#111">72.214 N</text>
<text x="489.8" y="847.9" font-family="Liberation Sans, sans-serif" font-size="17" font-weight="bold" textLength="76.9" lengthAdjust="spacingAndGlyphs" fill="#111">72.223 N</text>
<text x="609.6" y="847.9" font-family="Liberation Sans, sans-serif" font-size="17" font-weight="bold" textLength="22.1" lengthAdjust="spacingAndGlyphs" fill="#111">lat</text>
<text x="676.0" y="847.9" font-family="Liberation Sans, sans-serif" font-size="17" font-weight="bold" textLength="76.9" lengthAdjust="spacingAndGlyphs" fill="#111">72.232 N</text>
<text x="862.0" y="847.9" font-family="Liberation Sans, sans-serif" font-size="17" font-weight="bold" textLength="76.9" lengthAdjust="spacingAndGlyphs" fill="#111">72.241 N</text>
<text x="1047.8" y="847.9" font-family="Liberation Sans, sans-serif" font-size="17" font-weight="bold" textLength="76.9" lengthAdjust="spacingAndGlyphs" fill="#111">72.250 N</text>
<text x="110.7" y="868.9" font-family="Liberation Sans, sans-serif" font-size="17" font-weight="bold" textLength="91.7" lengthAdjust="spacingAndGlyphs" fill="#111">161.863 W</text>
<text x="296.7" y="868.9" font-family="Liberation Sans, sans-serif" font-size="17" font-weight="bold" textLength="91.7" lengthAdjust="spacingAndGlyphs" fill="#111">161.861 W</text>
<text x="482.5" y="868.9" font-family="Liberation Sans, sans-serif" font-size="17" font-weight="bold" textLength="91.7" lengthAdjust="spacingAndGlyphs" fill="#111">161.859 W</text>
<text x="606.5" y="868.9" font-family="Liberation Sans, sans-serif" font-size="17" font-weight="bold" textLength="28.4" lengthAdjust="spacingAndGlyphs" fill="#111">lon</text>
<text x="668.7" y="868.9" font-family="Liberation Sans, sans-serif" font-size="17" font-weight="bold" textLength="91.7" lengthAdjust="spacingAndGlyphs" fill="#111">161.857 W</text>
<text x="854.7" y="868.9" font-family="Liberation Sans, sans-serif" font-size="17" font-weight="bold" textLength="91.7" lengthAdjust="spacingAndGlyphs" fill="#111">161.856 W</text>
<text x="1040.5" y="868.9" font-family="Liberation Sans, sans-serif" font-size="17" font-weight="bold" textLength="91.7" lengthAdjust="spacingAndGlyphs" fill="#111">161.858 W</text>
</svg></body></html>
